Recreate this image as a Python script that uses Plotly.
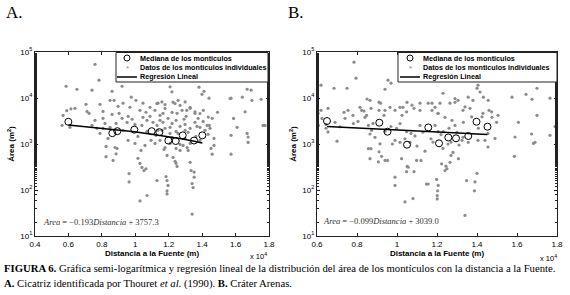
import plotly.graph_objects as go

# ---------------- data ----------------
# Panel A: Cicatriz identificada por Thouret et al. (1990)
A_MED_DIST = [5995, 8626, 8925, 9942, 10983, 11438, 11977, 12420, 12838, 13515, 14011]
A_MED_AREA = [3040, 1720, 1900, 2050, 1900, 1810, 1190, 1160, 1540, 1190, 1540]
A_REG = (-0.193, 3757.3)

A_PTS_DIST = [7590, 7830, 5860, 6510, 7410, 8610, 9210, 8730, 9760, 9270, 13810, 14110, 13990, 14410,
              15730, 16690, 16930, 17530, 14920, 15880, 10880, 11360, 12260, 12560,
              6150, 5900, 5680, 5620, 6090, 7110, 7230, 8070, 8610, 9030, 9680, 10280, 10640, 7590,
              8190, 8850, 9510, 9810, 10460, 10700, 7710, 9270, 10400,
              11180, 11480, 11780, 11960, 12200, 12440, 12800, 13040, 13280, 13570, 13760, 14060,
              14300, 14600, 11300, 11660, 12080, 12980, 13280, 13690,
              11240, 11600, 12200, 12560, 13160, 13280, 13630, 14170, 12080, 11780, 12440, 12680,
              13100, 10940, 10580, 10340, 10160, 9570, 9980, 8790, 8850, 8670, 8250, 8250, 8910,
              9630, 9630, 10160, 10280, 10400, 10520, 10640, 10280, 10700, 11300, 11720, 11900,
              11840, 11900, 11960, 11900, 11900, 12260, 12440, 12500, 12380, 12680, 12860, 13280,
              13340, 13520, 13520, 13400, 13460, 13400, 13160, 13870, 14530, 14600, 14710, 14710,
              15730, 15730, 16090, 16690, 16750, 17650,
              12080, 12190, 11290, 11590, 11780, 12380, 12680, 12980, 13080, 13280, 13570, 13870,
              14070, 14370, 14430, 15670, 16400, 16570, 16980, 17760, 16750,
              7890, 8370, 8070, 10880, 11060, 11480, 11780, 12200, 12680, 12920, 11360, 10700,
              9980, 9570, 9210, 8490, 8070, 7410, 13870, 14360, 14470, 12980, 12440, 12080, 11480,
              11180, 12980, 13570, 11660, 12500, 10460, 10040, 8970, 8490, 7890, 7050, 6390]
A_PTS_AREA = [54000, 24400, 18000, 15500, 14800, 14000, 18000, 8900, 10400, 7700, 17200, 14000, 12000, 9900,
              9900, 15500, 14800, 9400, 4900, 3600, 6300, 7700, 8100, 8900,
              5800, 5300, 4200, 2550, 2300, 5100, 4650, 5100, 4400, 4650, 6300, 5400, 4900, 3270,
              2800, 2800, 2960, 3450, 3800, 3270, 2190, 1980, 2540,
              5400, 4200, 5970, 3610, 4880, 3270, 5400, 4000, 5970, 4650, 3610, 3100,
              2540, 3610, 2540, 2960, 2300, 2670, 2190, 2420,
              1540, 1980, 1380, 1700, 1790, 1030, 1460, 1980, 1030, 840, 800, 980,
              840, 1200, 930, 724, 1460, 1200, 1030, 840, 610, 440, 885, 530, 800,
              228, 150, 487, 380, 310, 265, 290, 58, 76, 160, 760, 565,
              196, 160, 126, 96, 82, 510, 380, 325, 420, 724, 930, 400,
              265, 245, 190, 138, 113, 30, 724, 1200, 800, 600, 1320, 930,
              1540, 600, 2300, 1700, 1080, 2540,
              17500, 13600, 7600, 8200, 7200, 7600, 6900, 8200, 5400, 6300, 5000, 4600,
              5400, 3850, 2540, 9700, 10400, 5000, 8900, 2540, 1420,
              1700, 1320, 2190, 4000, 2960, 3270, 2190, 2800, 2420, 3450, 1980, 1880,
              2670, 4000, 3610, 2300, 3610, 2540, 2300, 1620, 2190, 1320, 1880, 1700, 1200,
              1030, 1980, 2960, 4650, 4650, 7700, 8900, 6600, 8900, 7300, 7300, 5970]

# Panel B: Cráter Arenas
B_MED_DIST = [6500, 9115, 9525, 10500, 11565, 12100, 12565, 12950, 13565, 13975, 14525]
B_MED_AREA = [3160, 2900, 1850, 966, 2290, 1035, 1385, 1330, 1490, 3050, 2380]
B_REG = (-0.099, 3039.0)

B_PTS_DIST = [7850, 7950, 6200, 6850, 7500, 9550, 9700, 9400, 8500, 9100, 6200, 6050, 6550, 7350, 7550,
              7800, 8150, 8350, 8650, 8700, 9100, 9350, 9650, 9900, 10250, 10300, 10500, 10750, 10850,
              11150, 11750, 11900, 11750, 12050, 12300, 12650, 12900, 13050, 13300, 13650, 13800,
              14000, 14050, 14150, 14300, 14600, 14750, 15050, 15750, 16450, 16750, 17000, 17650, 17000,
              6250, 6450, 6900, 7400, 8050, 8400, 8800,
              6550, 7000, 8650, 8700, 9150, 9100, 9230, 9400, 8650, 9070, 9530, 9900, 9900, 10400,
              10800, 10560, 10980, 11560, 11980, 12060, 12030, 12010, 12010, 12230, 12400, 12500,
              12450, 12650, 12700, 12800, 13070, 13480, 13400, 14000, 13900, 13870, 14050, 14400,
              14550, 14900, 15900, 15870, 16730, 16820, 17900,
              8570, 10230, 10510, 10480, 10850, 11200, 11470,
              9180, 8230, 8480, 9400, 10150, 10480, 11150, 11560, 6070, 6450, 7150, 7820, 8570, 8730,
              10150, 9980, 10480, 11150, 11900, 12060, 9900, 10150, 10650, 9770,
              12150, 12900, 13400, 13560, 14320, 14560, 12060, 12400, 12750, 12900, 13320, 13730,
              14250, 14730, 14980, 14070, 14550, 16070, 16900, 17650, 13560, 13250, 12320, 12550,
              10900, 11300, 11700, 12200, 12600, 13000, 13300, 11000, 11400, 11800, 12300, 12700,
              13100, 10700, 10400, 9700, 9400, 8900]
B_PTS_AREA = [60000, 27000, 19000, 16300, 16300, 24400, 21000, 15500, 9500, 8100, 5400, 4650, 5970, 4880, 5400,
              4200, 6280, 5200, 8920, 5970, 5400, 4200, 6280, 5400, 4200, 6280, 8070, 7000, 5970,
              5400, 7700, 6280, 5400, 4640, 12700, 7700, 8070, 8900, 5400, 5970, 8900,
              16300, 19000, 13500, 4650, 5400, 3800, 4200, 10400, 12000, 9400, 16300, 9900, 4200,
              3600, 2670, 2960, 3610, 3100, 3800, 2800,
              1830, 1150, 1650, 790, 1010, 675, 540, 440, 480, 410, 440, 190, 126, 55,
              65, 312, 440, 135, 170, 126, 96, 76, 64, 370, 265, 290,
              330, 400, 565, 655, 480, 160, 28, 230, 150, 96, 1200, 1200,
              860, 1320, 1420, 540, 1650, 1030, 2400,
              790, 480, 325, 250, 250, 440, 135,
              7700, 5400, 4200, 5400, 6280, 5000, 7700, 7700, 2540, 2200, 2370, 2780, 2540, 1980,
              2780, 2200, 1850, 2540, 2540, 1850, 1200, 1090, 1090, 1000,
              7700, 9700, 6400, 10400, 10400, 8900, 4600, 3800, 3270, 2540, 2960, 3900,
              3900, 5000, 2960, 2200, 1700, 2960, 1090, 1540, 1090, 1200, 1850, 1000,
              1500, 1800, 1300, 1600, 2200, 1800, 1400, 900, 700, 1100, 800, 1100,
              950, 1700, 1300, 2400, 1900, 1400]

A_XTICKS = [4000, 6000, 8000, 10000, 12000, 14000, 16000, 18000]
B_XTICKS = [6000, 8000, 10000, 12000, 14000, 16000, 18000]
XTICK_TEXT = {4000: "0.4", 6000: "0.6", 8000: "0.8", 10000: "1", 12000: "1.2",
              14000: "1.4", 16000: "1.6", 18000: "1.8"}
YTICKS = [10, 100, 1000, 10000, 100000]
YTICK_TEXT = ["10<sup>1</sup>", "10<sup>2</sup>", "10<sup>3</sup>", "10<sup>4</sup>", "10<sup>5</sup>"]

LEG_NAMES = ["Mediana de los monticulos", "Datos de los monticulos individuales", "Regresión Lineal"]

# ---------------- figure ----------------
W, H = 570, 295
def px(x):
    return x / W
def py(y):
    return 1 - y / H

SANS = "Liberation Sans, Arial, sans-serif"
SERIF = "Liberation Serif, Times New Roman, serif"

fig = go.Figure()

panels = [
    ("x", "y", A_PTS_DIST, A_PTS_AREA, A_MED_DIST, A_MED_AREA, A_REG),
    ("x2", "y2", B_PTS_DIST, B_PTS_AREA, B_MED_DIST, B_MED_AREA, B_REG),
]
for xa, ya, pd_, pa, md, ma, reg in panels:
    fig.add_trace(go.Scatter(x=pd_, y=pa, mode="markers", name=LEG_NAMES[1], xaxis=xa, yaxis=ya,
                             marker=dict(symbol="circle", size=3.2, color="#8c8c8c")))
    slope, icpt = reg
    fig.add_trace(go.Scatter(x=md, y=[slope * d + icpt for d in md], mode="lines", name=LEG_NAMES[2],
                             xaxis=xa, yaxis=ya, line=dict(color="black", width=1.5)))
    fig.add_trace(go.Scatter(x=md, y=ma, mode="markers", name=LEG_NAMES[0], xaxis=xa, yaxis=ya,
                             marker=dict(symbol="circle-open", size=7, color="black",
                                         line=dict(width=1, color="black"))))

axis_common = dict(showline=True, linecolor="#222", linewidth=1, mirror="ticks", ticks="inside",
                   ticklen=3, tickcolor="#222", showgrid=False, zeroline=False, automargin=False,
                   tickfont=dict(family=SANS, size=8, color="black"))
xtitle = dict(text="<b>Distancia a la Fuente (m)</b>", font=dict(family=SANS, size=8, color="black"),
              standoff=2)
ytitle = dict(text="<b>Área (m<sup>2</sup>)</b>", font=dict(family=SANS, size=8, color="black"),
              standoff=4)

fig.update_layout(
    width=W, height=H, autosize=False,
    margin=dict(l=0, r=0, t=0, b=0, autoexpand=False),
    paper_bgcolor="white", plot_bgcolor="white",
    showlegend=False,
    xaxis=dict(domain=[px(35), px(269)], range=[4000, 18000], anchor="y",
               tickvals=A_XTICKS, ticktext=[XTICK_TEXT[v] for v in A_XTICKS], title=xtitle,
               **axis_common),
    yaxis=dict(domain=[py(236), py(52)], type="log", range=[1, 5], anchor="x",
               tickvals=YTICKS, ticktext=YTICK_TEXT,
               minor=dict(ticks="inside", ticklen=2, tickcolor="#222"), title=ytitle,
               **axis_common),
    xaxis2=dict(domain=[px(317), px(557)], range=[6000, 18000], anchor="y2",
                tickvals=B_XTICKS, ticktext=[XTICK_TEXT[v] for v in B_XTICKS], title=xtitle,
                **axis_common),
    yaxis2=dict(domain=[py(236), py(52)], type="log", range=[1, 5], anchor="x2",
                tickvals=YTICKS, ticktext=YTICK_TEXT,
                minor=dict(ticks="inside", ticklen=2, tickcolor="#222"), title=ytitle,
                **axis_common),
)

shapes = []
ann = []
# legends (box, keys, labels)
for (bx0, bx1, lx0, lx1, tx) in [(116, 268, 117, 137, 138), (398, 557, 400, 420, 421)]:
    shapes.append(dict(type="rect", xref="paper", yref="paper", x0=px(bx0), x1=px(bx1),
                       y0=py(82), y1=py(52.5), line=dict(color="#222", width=1), fillcolor="white",
                       layer="above"))
    cx = (lx0 + lx1) / 2
    shapes.append(dict(type="circle", xref="paper", yref="paper", x0=px(cx - 3), x1=px(cx + 3),
                       y0=py(61), y1=py(55), line=dict(color="black", width=1), layer="above"))
    shapes.append(dict(type="line", xref="paper", yref="paper", x0=px(lx0), x1=px(lx1),
                       y0=py(77), y1=py(77), line=dict(color="black", width=1.5), layer="above"))
    ann.append(dict(text="*", x=px(cx), y=py(68.5), xanchor="center", yanchor="middle",
                    font=dict(family=SANS, size=8, color="#8c8c8c")))
    for name, yy in zip(LEG_NAMES, [58, 67.5, 76.5]):
        ann.append(dict(text="<b>" + name + "</b>", x=px(tx), y=py(yy), xanchor="left",
                        yanchor="middle", font=dict(family=SANS, size=7.2, color="black")))

ann.append(dict(text="A.", x=px(4), y=py(13), xanchor="left", yanchor="middle",
                font=dict(family=SERIF, size=17, color="black")))
ann.append(dict(text="B.", x=px(286), y=py(13), xanchor="left", yanchor="middle",
                font=dict(family=SERIF, size=17, color="black")))
ann.append(dict(text="<i>Area</i> = −0.193<i>Distancia</i> + 3757.3", x=px(41), y=py(222),
                xanchor="left", yanchor="middle", font=dict(family=SERIF, size=8.5, color="#333")))
ann.append(dict(text="<i>Area</i> = −0.099<i>Distancia</i> + 3039.0", x=px(321), y=py(221),
                xanchor="left", yanchor="middle", font=dict(family=SERIF, size=8.5, color="#333")))
ann.append(dict(text="x 10<sup>4</sup>", x=px(258), y=py(256), xanchor="center", yanchor="middle",
                font=dict(family=SANS, size=7.5, color="black")))
ann.append(dict(text="x 10<sup>4</sup>", x=px(548), y=py(258), xanchor="center", yanchor="middle",
                font=dict(family=SANS, size=7.5, color="black")))
ann.append(dict(text="<b>FIGURA 6.</b> Gráfica semi-logarítmica y regresión lineal de la distribución del área "
                     "de los montículos con la distancia a la Fuente.",
                x=px(2), y=py(268), xanchor="left", yanchor="middle",
                font=dict(family=SERIF, size=10.7, color="black")))
ann.append(dict(text="<b>A.</b> Cicatriz identificada por Thouret <i>et al</i>. (1990). <b>B.</b> Cráter Arenas.",
                x=px(2), y=py(283), xanchor="left", yanchor="middle",
                font=dict(family=SERIF, size=10.7, color="black")))
for a in ann:
    a.update(xref="paper", yref="paper", showarrow=False)
fig.update_layout(annotations=ann, shapes=shapes)

fig.write_html("out.html", config={"displayModeBar": False},
               post_script="document.body.style.margin='0px';")
